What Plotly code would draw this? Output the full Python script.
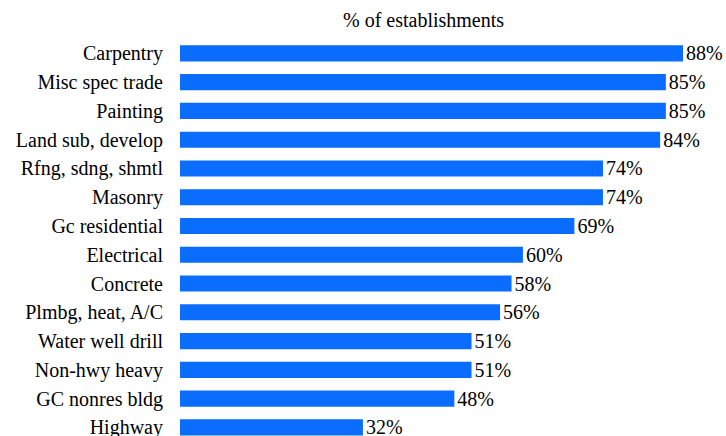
import plotly.graph_objects as go

categories = [
    "Carpentry", "Misc spec trade", "Painting", "Land sub, develop",
    "Rfng, sdng, shmtl", "Masonry", "Gc residential", "Electrical",
    "Concrete", "Plmbg, heat, A/C", "Water well drill", "Non-hwy heavy",
    "GC nonres bldg", "Highway",
]
share_pct = [88, 85, 85, 84, 74, 74, 69, 60, 58, 56, 51, 51, 48, 32]
title_text = "% of establishments"

W, H = 726, 436
ML, MR, MT, MB = 180, 43, 39, 0
FONT = "Liberation Serif"

fig = go.Figure(
    go.Bar(
        x=share_pct,
        y=categories,
        orientation="h",
        marker=dict(color="#0a6dff", line=dict(width=0)),
        text=[f"{v}%" for v in share_pct],
        textposition="outside",
        textfont=dict(family=FONT, size=20, color="black"),
        cliponaxis=False,
        constraintext="none",
        width=0.56,
    )
)

plot_h = H - MT - MB
title_y = 1 + (MT - 20) / plot_h
title_x = (423 - ML) / (W - ML - MR)

fig.update_layout(
    width=W,
    height=H,
    margin=dict(l=ML, r=MR, t=MT, b=MB, pad=0),
    paper_bgcolor="white",
    plot_bgcolor="white",
    showlegend=False,
    font=dict(family=FONT, size=20, color="black"),
    annotations=[
        dict(
            text=title_text, xref="paper", yref="paper",
            x=title_x, y=title_y, xanchor="center", yanchor="middle",
            showarrow=False, font=dict(family=FONT, size=20, color="black"),
        )
    ],
)
fig.update_xaxes(range=[0, 88], visible=False, showgrid=False, zeroline=False)
fig.update_yaxes(
    type="category",
    categoryorder="array",
    categoryarray=categories,
    range=[plot_h / 28.77 - 0.5, -0.5],
    automargin=False,
    showgrid=False,
    zeroline=False,
    showline=False,
    ticks="",
    ticklabelstandoff=16,
    tickfont=dict(family=FONT, size=20, color="black"),
)

fig.write_html("out.html")
